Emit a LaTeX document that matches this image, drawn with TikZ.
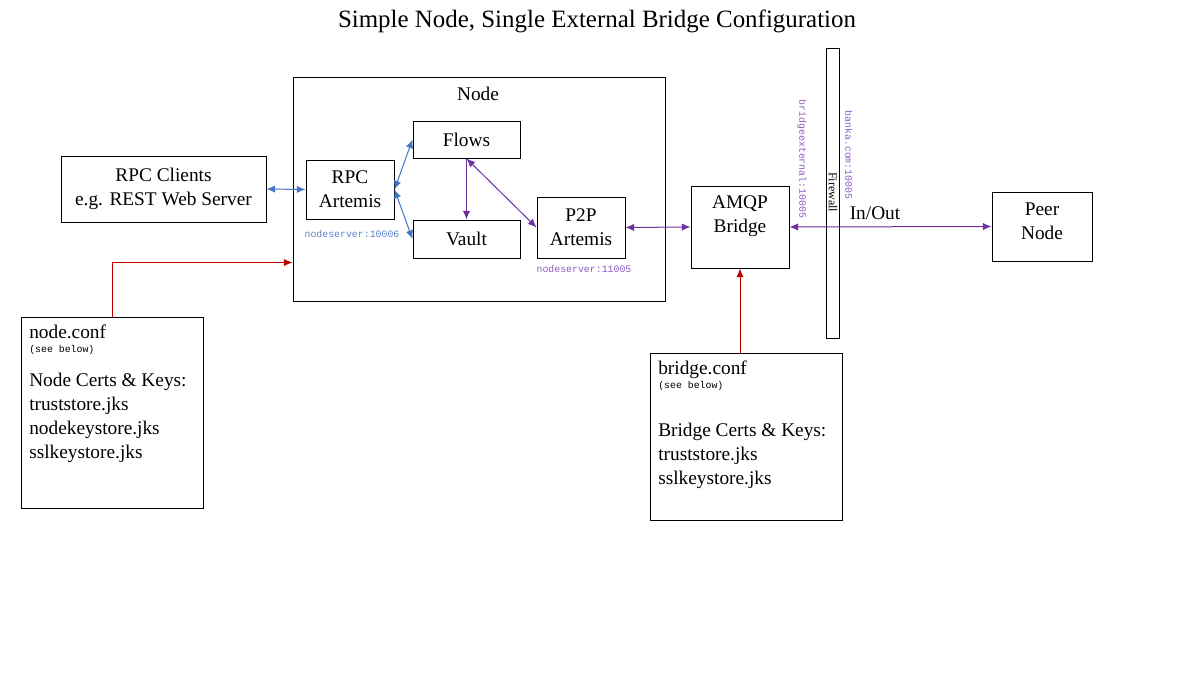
\documentclass[tikz,border=0pt]{standalone}
\usepackage{fontspec}
\setmainfont{Liberation Serif}
\setmonofont{Liberation Mono}
\usepackage{xcolor}
\usetikzlibrary{arrows.meta,positioning,calc}

\definecolor{rpcblue}{HTML}{4472C4}
\definecolor{p2ppurple}{HTML}{7030A0}
\definecolor{confred}{HTML}{C00000}
\definecolor{portblue}{HTML}{5B84CC}
\definecolor{portpurple}{HTML}{8E5CC2}

\newcommand{\txtfont}{\fontsize{14.5}{18}\selectfont}
\newcommand{\portfont}{\ttfamily\fontsize{7.4}{9}\selectfont}

\begin{document}
\begin{tikzpicture}[x=0.75pt,y=-0.75pt,
    >={Latex[length=6.5pt,width=5.5pt]},
    box/.style={rectangle, draw, line width=0.75pt, inner sep=0pt, align=center, font=\txtfont},
    conftext/.style={align=left, inner sep=0pt, font=\txtfont},
    port/.style={inner sep=1pt, font=\portfont},
    rpclink/.style={draw=rpcblue, line width=0.75pt},
    p2plink/.style={draw=p2ppurple, line width=0.75pt},
    conflink/.style={draw=confred, line width=0.75pt},
]
\useasboundingbox (0,0) rectangle (1200,675);
\fill[white] (0,0) rectangle (1200,675);

% Title
\node[font=\fontsize{18.7}{22}\selectfont] (title) at (597,21) {Simple Node, Single External Bridge Configuration};

% Node and its parts
\node[box, minimum width=279pt, minimum height=168pt] (nodebox) at (479,189) {};
\node[font=\txtfont] (nodelabel) at (478,94) {Node};
\node[box, minimum width=66pt, minimum height=44.25pt] (rpc) at (350,189.5) {RPC\\Artemis};
\node[box, minimum width=80.25pt, minimum height=27.75pt] (flows) at (466.5,139.5) {Flows};
\node[box, minimum width=80.25pt, minimum height=28.5pt] (vault) at (466.5,239) {Vault};
\node[box, minimum width=66pt, minimum height=45.75pt] (p2p) at (581,227.5) {P2P\\Artemis};
\node[port, text=portblue] (rpcport) at (352,234) {nodeserver:10006};
\node[port, text=portpurple] (p2pport) at (584,269) {nodeserver:11005};

% Clients
\node[box, minimum width=153.75pt, minimum height=49.5pt] (clients) at (163.5,189) {RPC Clients\\e.g. REST Web Server};

% Bridge, firewall, peer
\node[box, minimum width=73.5pt, minimum height=61.5pt] (amqp) at (740,227) {};
\node[font=\txtfont, align=center] (amqplabel) at (740,216) {AMQP\\Bridge};
\node[box, minimum width=9.75pt, minimum height=217.5pt] (firewall) at (832.5,193) {};
\node[rotate=-90, font=\fontsize{9}{10}\selectfont] (fwlabel) at (833,192) {Firewall};
\node[port, text=portpurple, rotate=-90] (bridgeport) at (802,159) {bridgeexternal:10005};
\node[port, text=portpurple, rotate=-90] (bankport) at (849,155) {banka.com:10005};
\node[font=\txtfont] (inout) at (875,213) {In/Out};
\node[box, minimum width=75pt, minimum height=51.75pt] (peer) at (1042,226.5) {};
\node[font=\txtfont, align=center] (peerlabel) at (1042,221) {Peer\\Node};

% Config boxes
\node[box, minimum width=136.5pt, minimum height=143.25pt] (nodeconf) at (112,412.5) {};
\node[conftext, anchor=north west] (nodeconftext) at (29,325) {node.conf\\[-8pt]{\portfont (see below)}\\[8pt]Node Certs \& Keys:\\truststore.jks\\nodekeystore.jks\\sslkeystore.jks};
\node[box, minimum width=144pt, minimum height=125.25pt] (bridgeconf) at (746,436.5) {};
\node[conftext, anchor=north west] (bridgeconftext) at (658,361) {bridge.conf\\[-8pt]{\portfont (see below)}\\[18pt]Bridge Certs \& Keys:\\truststore.jks\\sslkeystore.jks};

% Connectors
\draw[rpclink,<->] (clients.east) -- (rpc.west);
\draw[rpclink,<->] (rpc.east) -- (flows.west);
\draw[rpclink,<->] (rpc.east) -- (vault.west);
\draw[p2plink,->] (flows.south) -- (vault.north);
\draw[p2plink,<->] (flows.south) -- (p2p.west);
\draw[p2plink,<->] (p2p.east) -- (amqp.west);
\draw[p2plink,<->] (amqp.east) -- (peer.west);
\draw[conflink,->] (nodeconf.north) |- ([yshift=29.25pt]nodebox.south west);
\draw[conflink,->] (bridgeconf.north -| amqp.south) -- (amqp.south);

\end{tikzpicture}
\end{document}
